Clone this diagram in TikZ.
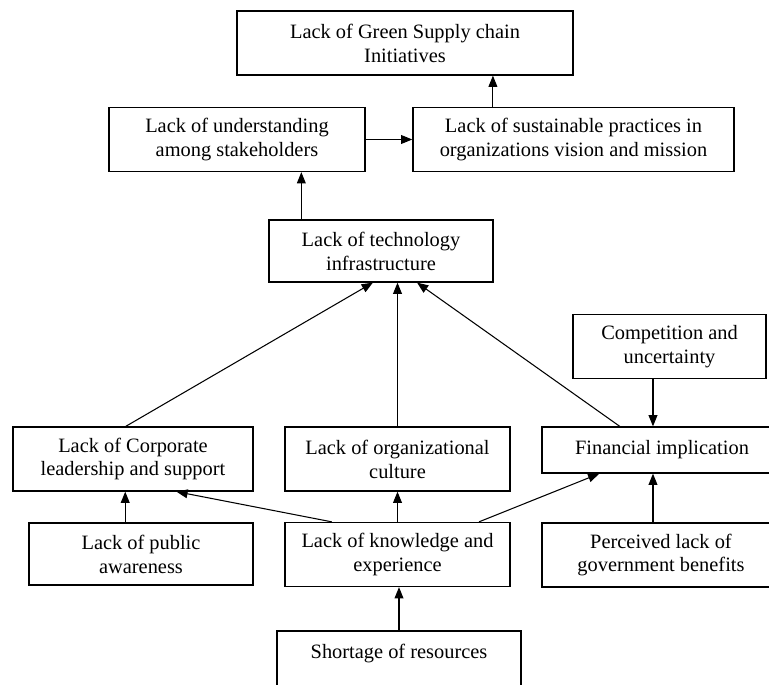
\documentclass[tikz,border=0pt]{standalone}
\usepackage{fontspec}
\setmainfont{Liberation Serif}
\usetikzlibrary{arrows.meta, calc}

\begin{document}
\begin{tikzpicture}[
    x=0.025cm, y=-0.025cm,
    factor/.style={rectangle, draw=black, line width=0.9pt, minimum height=1.6cm, inner sep=2pt, font=\fontsize{14.5}{17}\selectfont, align=center},
    arrow/.style={-{Triangle[length=0.28cm, width=0.22cm]}, line width=0.75pt}
]
\clip (0,0) rectangle (769,684);

\node[factor, minimum width=8.4cm] (initiatives) at (405,43) {Lack of Green Supply chain\\Initiatives};
\node[factor, minimum width=6.4cm] (understanding) at (237,139.5) {Lack of understanding\\among stakeholders};
\node[factor, minimum width=8.025cm] (sustainable) at (573.5,139.5) {Lack of sustainable practices in\\organizations vision and mission};
\node[factor, minimum width=5.6cm, minimum height=1.55cm] (technology) at (381,251) {Lack of technology\\infrastructure};
\node[factor, minimum width=4.825cm] (competition) at (669.5,346.5) {Competition and\\uncertainty};
\node[factor, minimum width=6cm] (corporate) at (133,459) {Lack of Corporate\\leadership and support};
\node[factor, minimum width=5.625cm] (culture) at (397.5,459) {Lack of organizational\\culture};
\node[factor, minimum width=6cm, minimum height=1.15cm] (financial) at (662,450) {Financial implication};
\node[factor, minimum width=5.6cm, minimum height=1.55cm] (awareness) at (141,554) {Lack of public\\awareness};
\node[factor, minimum width=5.625cm] (knowledge) at (397.5,554.5) {Lack of knowledge and\\experience};
\node[factor, minimum width=5.95cm] (benefits) at (661,555) {Perceived lack of\\government benefits};
\node[factor, minimum width=6.1cm, minimum height=1.625cm] (resources) at (399,663.5) {Shortage of resources\\\mbox{}};

\coordinate (u1) at ($(understanding.south west)!0.75!(understanding.south east)$);

\draw[arrow] (understanding) -- (sustainable);
\draw[arrow] ($(sustainable.north west)!0.25!(sustainable.north east)$) coordinate (s1) -- (s1 |- initiatives.south);
\draw[arrow] (u1 |- technology.north) -- (u1);
\draw[arrow] ($(corporate.north west)!0.47!(corporate.north east)$) -- ($(technology.south west)!0.464!(technology.south east)$);
\draw[arrow] (culture.north) -- (culture.north |- technology.south);
\draw[arrow] ($(financial.north west)!0.325!(financial.north east)$) -- ($(technology.south west)!0.66!(technology.south east)$);
\draw[arrow] ($(competition.south west)!0.415!(competition.south east)$) coordinate (c1) -- (c1 |- financial.north);
\draw[arrow] (c1 |- benefits.north) -- (c1 |- financial.south);
\draw[arrow] ($(awareness.north west)!0.43!(awareness.north east)$) coordinate (a1) -- (a1 |- corporate.south);
\draw[arrow] ($(knowledge.north west)!0.21!(knowledge.north east)$) -- ($(corporate.south west)!0.68!(corporate.south east)$);
\draw[arrow] (knowledge.north) -- (knowledge.north |- culture.south);
\draw[arrow] ($(knowledge.north west)!0.86!(knowledge.north east)$) -- ($(financial.south west)!0.24!(financial.south east)$);
\draw[arrow] (resources.north) -- (resources.north |- knowledge.south);

\end{tikzpicture}
\end{document}
